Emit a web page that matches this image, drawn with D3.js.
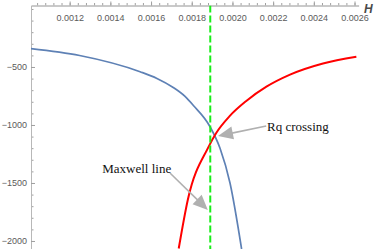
<!DOCTYPE html>
<html>
<head>
<meta charset="utf-8">
<script src="https://cdn.jsdelivr.net/npm/d3@7"></script>
<style>
  body { margin:0; background:#fff; }
  svg { display:block; }
</style>
</head>
<body>
<div id="chart"></div>
<script>
// values
var blueH = [0.001008, 0.001249, 0.001546, 0.001629, 0.001709, 0.001767, 0.001808, 0.001890, 0.001939, 0.001988, 0.002045];
var blueV = [-341, -401, -541, -599, -677, -754, -832, -1015, -1201, -1500, -2069];
var redH = [0.001736, 0.001781, 0.00188, 0.001921, 0.001986, 0.002068, 0.002167, 0.002283, 0.002445, 0.002609];
var redV = [-2065, -1642, -1197, -1067, -924, -793, -670, -566, -470, -412];
var maxwellH = 0.001891;

var xTicks = [0.0012, 0.0014, 0.0016, 0.0018, 0.0020, 0.0022, 0.0024, 0.0026];
var yTicks = [-500, -1000, -1500, -2000];

// annotations: [label, textH, textV, fromH, fromV, toH, toV]
var notes = [
  ["Rq crossing", 0.00217, -1056, 0.002166, -1009, 0.001929, -1095],
  ["Maxwell line", 0.00136, -1417, 0.001693, -1414, 0.001879, -1733]
];

var W = 374, H = 249;
var svg = d3.select("#chart").append("svg")
  .attr("width", W).attr("height", H);

var x = d3.scaleLinear().domain([0.00101, 0.00262]).range([31, 358.6]);
var y = d3.scaleLinear().domain([30, -2070]).range([5.5, 249.1]);

svg.append("defs").append("clipPath").attr("id","plotClip")
  .append("rect")
  .attr("x", x.range()[0]).attr("y", y.range()[0])
  .attr("width", x.range()[1]-x.range()[0])
  .attr("height", y.range()[1]-y.range()[0]);

var axisCol = "#b8b8b8", labelCol = "#5a5a5a";

// minor ticks
var xMinor = d3.range(26, 66).map(function(k){ return k*0.00004; }).filter(function(v){ return x(v) >= 31.5; });
var yMinor = d3.range(0, 21).map(function(k){ return -k*100; });

var xAxisY = y(30);
var gxMinor = svg.append("g").attr("transform","translate(0,"+xAxisY+")")
  .call(d3.axisBottom(x).tickValues(xMinor).tickFormat("").tickSizeInner(-2.5).tickSizeOuter(0));
var gx = svg.append("g").attr("transform","translate(0,"+xAxisY+")")
  .call(d3.axisBottom(x).tickValues(xTicks).tickFormat(d3.format(".4f")).tickSizeInner(-4).tickSizeOuter(0).tickPadding(9.5));

var gyMinor = svg.append("g").attr("transform","translate(31,0)")
  .call(d3.axisLeft(y).tickValues(yMinor).tickFormat("").tickSizeInner(-2.5).tickSizeOuter(0));
var gy = svg.append("g").attr("transform","translate(31,0)")
  .call(d3.axisLeft(y).tickValues(yTicks).tickFormat(function(d){ return "\u2212" + Math.abs(d); }).tickSizeInner(-4).tickSizeOuter(0).tickPadding(4));

[gx, gy, gxMinor, gyMinor].forEach(function(g){
  g.select(".domain").attr("stroke", axisCol);
  g.selectAll(".tick line").attr("stroke", "#a0a0a0");
  g.selectAll("text")
    .style("font-family","Liberation Sans, Arial, sans-serif")
    .style("font-size","9px")
    .attr("fill", labelCol);
});

// axis label
svg.append("text")
  .attr("x", 364).attr("y", 12.5)
  .text("H")
  .style("font-family","Liberation Sans, Arial, sans-serif")
  .style("font-size","12px")
  .style("font-style","italic")
  .style("font-weight","bold")
  .attr("fill","#4a4a4a");

var plot = svg.append("g").attr("clip-path","url(#plotClip)");

var line = d3.line()
  .x(function(d){ return x(d[0]); })
  .y(function(d){ return y(d[1]); })
  .curve(d3.curveMonotoneX);

plot.append("path")
  .datum(d3.zip(blueH, blueV))
  .attr("d", line)
  .attr("fill","none")
  .attr("stroke","#5e81b5")
  .attr("stroke-width",1.7);

plot.append("path")
  .datum(d3.zip(redH, redV))
  .attr("d", line)
  .attr("fill","none")
  .attr("stroke","#ff0000")
  .attr("stroke-width",2);

plot.append("line")
  .attr("x1", x(maxwellH)).attr("x2", x(maxwellH))
  .attr("y1", y(30)).attr("y2", y(-2070))
  .attr("stroke","#1aee1a")
  .attr("stroke-width",2)
  .attr("stroke-dasharray","7,3");

// annotations
var arrowCol = "#b0b0b0";
notes.forEach(function(n){
  var x0 = x(n[3]), y0 = y(n[4]), x1 = x(n[5]), y1 = y(n[6]);
  var dx = x1-x0, dy = y1-y0, len = Math.sqrt(dx*dx+dy*dy);
  var ux = dx/len, uy = dy/len;
  var hl = 15, hw = 6.5;
  var bx = x1-ux*hl, by = y1-uy*hl;
  svg.append("line")
    .attr("x1", x0).attr("y1", y0).attr("x2", bx+ux*2).attr("y2", by+uy*2)
    .attr("stroke", arrowCol).attr("stroke-width",1.6);
  svg.append("path")
    .attr("d", "M"+x1+","+y1+"L"+(bx-uy*hw)+","+(by+ux*hw)+"L"+(bx+uy*hw)+","+(by-ux*hw)+"Z")
    .attr("fill", arrowCol);
  svg.append("text")
    .attr("x", x(n[1])).attr("y", y(n[2]))
    .text(n[0])
    .style("font-family","Liberation Serif, Times New Roman, serif")
    .style("font-size","13px")
    .attr("fill","#111");
});
</script>
</body>
</html>
